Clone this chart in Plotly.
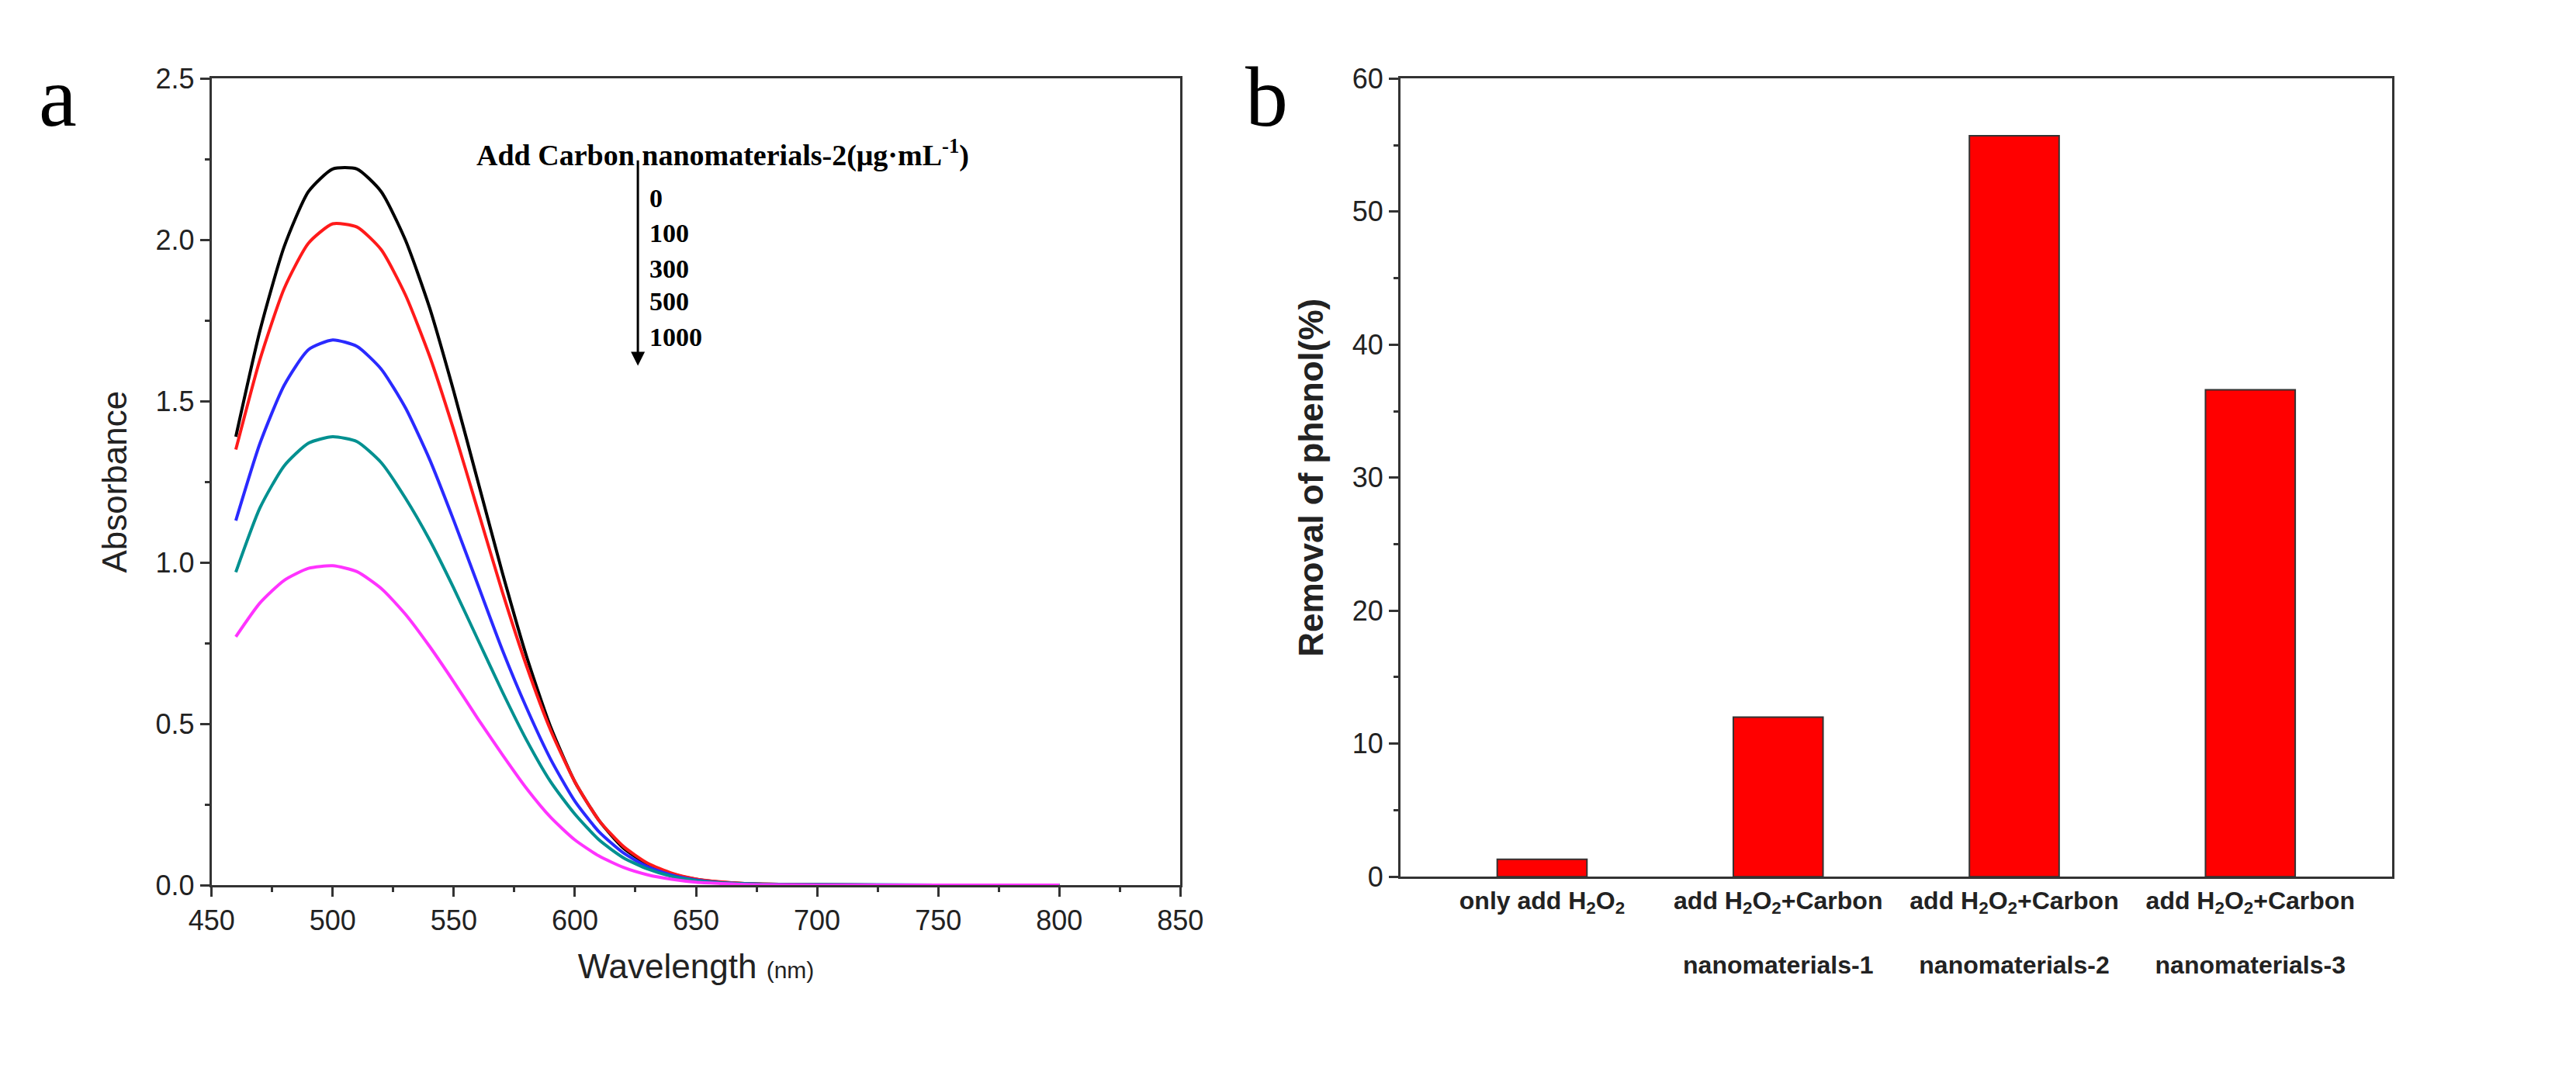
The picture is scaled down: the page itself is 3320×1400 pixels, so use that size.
import plotly.graph_objects as go

wavelength = [460, 470, 480, 490, 500, 510, 520, 530, 540, 550, 560, 570, 580, 590, 600,
              610, 620, 630, 640, 650, 660, 670, 680, 700, 750, 800]
abs_0 = [1.39, 1.72, 1.98, 2.15, 2.22, 2.22, 2.15, 2.00, 1.79, 1.53, 1.25, 0.97, 0.71, 0.49, 0.32,
         0.20, 0.115, 0.065, 0.035, 0.018, 0.009, 0.005, 0.003, 0.001, 0, 0]
abs_100 = [1.35, 1.63, 1.85, 1.99, 2.05, 2.04, 1.97, 1.83, 1.64, 1.41, 1.16, 0.91, 0.68, 0.48, 0.32,
           0.20, 0.12, 0.068, 0.037, 0.019, 0.01, 0.005, 0.003, 0.001, 0, 0]
abs_300 = [1.13, 1.37, 1.55, 1.66, 1.69, 1.67, 1.60, 1.48, 1.32, 1.13, 0.93, 0.73, 0.55, 0.39, 0.26,
           0.165, 0.10, 0.057, 0.031, 0.016, 0.008, 0.004, 0.002, 0.001, 0, 0]
abs_500 = [0.97, 1.17, 1.30, 1.37, 1.39, 1.375, 1.31, 1.20, 1.07, 0.92, 0.76, 0.60, 0.45, 0.32, 0.22,
           0.14, 0.085, 0.05, 0.027, 0.014, 0.007, 0.004, 0.002, 0.001, 0, 0]
abs_1000 = [0.77, 0.875, 0.945, 0.982, 0.99, 0.972, 0.92, 0.84, 0.74, 0.63, 0.515, 0.405, 0.30, 0.21, 0.14,
            0.09, 0.055, 0.032, 0.018, 0.009, 0.005, 0.002, 0.001, 0, 0, 0]
doses = ["0", "100", "300", "500", "1000"]
colors = ["black", "#ff1a1a", "#2a2aff", "#009090", "#ff33ff"]

bar_labels = ["only add H<sub>2</sub>O<sub>2</sub>",
              "add H<sub>2</sub>O<sub>2</sub>+Carbon<br><br>nanomaterials-1",
              "add H<sub>2</sub>O<sub>2</sub>+Carbon<br><br>nanomaterials-2",
              "add H<sub>2</sub>O<sub>2</sub>+Carbon<br><br>nanomaterials-3"]
removal = [1.3, 12.0, 55.7, 36.6]

fig = go.Figure()
for ys, c, d in zip([abs_0, abs_100, abs_300, abs_500, abs_1000], colors, doses):
    fig.add_trace(go.Scatter(x=wavelength, y=ys, mode="lines", name=d,
                             line=dict(color=c, width=4, shape="spline", smoothing=0.6),
                             xaxis="x", yaxis="y"))

fig.add_trace(go.Bar(x=[0, 1, 2, 3], y=removal, marker=dict(color="#ff0000", line=dict(color="#333", width=2)),
                     width=0.38, xaxis="x2", yaxis="y2"))

axis_common = dict(showline=True, linecolor="#333", linewidth=3, mirror=True, ticks="outside",
                   ticklen=12, tickwidth=3, tickcolor="#333", showgrid=False, zeroline=False,
                   tickfont=dict(family="Arial", size=36, color="#222"))

fig.update_layout(
    width=3320, height=1400, showlegend=False,
    paper_bgcolor="white", plot_bgcolor="white",
    margin=dict(l=0, r=0, t=0, b=0),
    xaxis=dict(domain=[0.072, 0.455], range=[450, 850], dtick=50, anchor="y",
               minor=dict(ticks="outside", ticklen=6, dtick=25, tickcolor="#333"),
               title=dict(text="Wavelength <span style='font-size:30px'>(nm)</span>",
                          font=dict(family="Arial", size=44, color="#222"), standoff=24),
               **axis_common),
    yaxis=dict(domain=[0.181, 0.946], range=[0, 2.5], dtick=0.5, tickformat=".1f", anchor="x",
               minor=dict(ticks="outside", ticklen=6, dtick=0.25, tickcolor="#333"),
               title=dict(text="Absorbance", font=dict(family="Arial", size=44, color="#222"), standoff=24),
               **axis_common),
    xaxis2=dict(domain=[0.542, 0.934], range=[-0.6, 3.6], anchor="y2",
                tickvals=[0, 1, 2, 3], ticktext=["<b>%s</b>" % t for t in bar_labels], ticks="",
                showline=True, linecolor="#333", linewidth=3, mirror=True, showgrid=False, zeroline=False,
                tickfont=dict(family="Liberation Sans Narrow, Arial Narrow, Arial", size=32, color="#222")),
    yaxis2=dict(domain=[0.189, 0.946], range=[0, 60], dtick=10, anchor="x2",
                minor=dict(ticks="outside", ticklen=6, dtick=5, tickcolor="#333"),
                title=dict(text="<b>Removal of phenol(%)</b>", font=dict(family="Arial", size=44, color="#222"),
                           standoff=24),
                **axis_common),
)

serif = "Times New Roman, Liberation Serif, serif"
fig.add_annotation(xref="x", yref="y", x=661, y=2.27, showarrow=False,
                   text="<b>Add Carbon nanomaterials-2(μg·mL<sup>-1</sup>)</b>",
                   font=dict(family=serif, size=38, color="black"))
for d, yv in zip(doses, [2.13, 2.02, 1.91, 1.81, 1.70]):
    fig.add_annotation(xref="x", yref="y", x=630, y=yv, showarrow=False, xanchor="left",
                       text="<b>%s</b>" % d, font=dict(family=serif, size=34, color="black"))
fig.add_annotation(xref="x", yref="y", x=626, y=1.61, ax=626, ay=2.25, axref="x", ayref="y",
                   showarrow=True, arrowhead=2, arrowsize=1.2, arrowwidth=3, arrowcolor="black", text="")
fig.add_annotation(xref="paper", yref="paper", x=0.003, y=0.975, showarrow=False, xanchor="left",
                   text="a", font=dict(family=serif, size=110, color="black"))
fig.add_annotation(xref="paper", yref="paper", x=0.48, y=0.975, showarrow=False, xanchor="left",
                   text="b", font=dict(family=serif, size=110, color="black"))

fig.write_html("out.html")
